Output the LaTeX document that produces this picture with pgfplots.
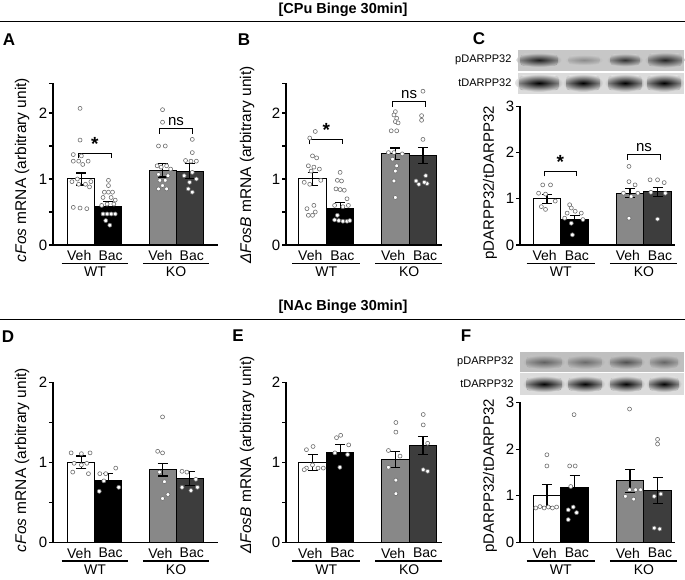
\documentclass[border=0pt]{standalone}
\usepackage{fontspec}
\setmainfont{Liberation Sans}
\usepackage{pgfplots}
\pgfplotsset{compat=1.18}
\definecolor{kov}{HTML}{888888}
\definecolor{kob}{HTML}{3D3D3D}
\definecolor{dotc}{HTML}{6E6E6E}
\newcommand{\fs}[1]{\fontsize{#1}{#1}\selectfont}

\pgfplotsset{
  panel/.style={scale only axis, anchor=south west, clip=false,
    axis x line*=bottom, axis y line*=left,
    axis line style={line width=1.1pt, black},
    xtick=\empty, ymin=0, tick align=outside, major tick length=4pt,
    tick style={line width=1.1pt, black},
    yticklabel style={font=\fs{15}, inner sep=1.5pt},
    /pgf/number format/assume math mode=true},
  bars/.style={ybar, bar width=1, bar shift=0pt, draw=black, line width=1pt},
  dots/.style={only marks, mark=*, mark size=2pt,
    mark options={fill=white, draw=dotc, line width=0.6pt}},
  errs/.style={draw=none, mark=none, forget plot,
    error bars/.cd, y dir=both, y explicit,
    error bar style={line width=1.2pt, draw=black},
    error mark options={rotate=90, line width=1.2pt, draw=black, mark size=5pt}},
}
\tikzset{lab/.style={font=\fs{14}, inner sep=0pt}}

% group labels under each axis
\newcommand{\grp}{%
  \node[lab] at ([yshift=-10.5pt]axis cs:-0.08,0) {Veh};
  \node[lab] at ([yshift=-10.5pt]axis cs:1.08,0) {Bac};
  \node[lab] at ([yshift=-10.5pt]axis cs:2.92,0) {Veh};
  \node[lab] at ([yshift=-10.5pt]axis cs:4.08,0) {Bac};
  \draw[line width=1.2pt] ([yshift=-18.5pt]axis cs:-0.73,0) -- ([yshift=-18.5pt]axis cs:1.73,0);
  \draw[line width=1.2pt] ([yshift=-18.5pt]axis cs:2.27,0) -- ([yshift=-18.5pt]axis cs:4.7,0);
  \node[lab] at ([yshift=-27pt]axis cs:0.5,0) {WT};
  \node[lab] at ([yshift=-27pt]axis cs:3.5,0) {KO};
}
% significance bracket: x1, x2, y, text
\newcommand{\brk}[4]{%
  \draw[line width=1.2pt] ([yshift=-5pt]axis cs:#1,#3) -- (axis cs:#1,#3) -- (axis cs:#2,#3) -- ([yshift=-5pt]axis cs:#2,#3);
  \node[anchor=base, inner sep=0pt, font=\fs{15}] at ([yshift=3pt]axis cs:{(#1+#2)/2},#3) {#4};
}
\newcommand{\sigstar}{{\fs{19}\bfseries *}}
% blot band: x, y, half width, half height, darkness, background
\newcommand{\band}[6]{%
  \shade[top color=#6, bottom color=#6, middle color=black!#5, rounded corners=4pt]
    ({#1-#3},{#2-#4}) rectangle ({#1+#3},{#2+#4});
  \shade[inner color=black!#5, outer color=#6, opacity=0.7]
    (#1,#2) ellipse ({#3*1.2} and {#4*1.2});}

\begin{document}
\begin{tikzpicture}[x=1pt,y=1pt]
\path[use as bounding box] (0,0) rectangle (685,580);

% headers
\node[font=\bfseries\fs{14.5}] at (343,570) {[CPu Binge 30min]};
\draw[line width=1.5pt] (0,558.5) -- (685,558.5);
\node[font=\bfseries\fs{14.5}] at (343,273) {[NAc Binge 30min]};
\draw[line width=1.5pt] (0,260.5) -- (685,260.5);

% panel letters
\node[font=\bfseries\fs{17}] at (9,540) {A};
\node[font=\bfseries\fs{17}] at (244,540) {B};
\node[font=\bfseries\fs{17}] at (479,541) {C};
\node[font=\bfseries\fs{17}] at (8,243) {D};
\node[font=\bfseries\fs{17}] at (238,244) {E};
\node[font=\bfseries\fs{17}] at (466,244) {F};

% y labels
\node[rotate=90, font=\fs{15.5}] at (22,410) {\textit{cFos} mRNA (arbitrary unit)};
\node[rotate=90, font=\fs{15.5}] at (247,415) {\textit{ΔFosB} mRNA (arbitrary unit)};
\node[rotate=90, font=\fs{15}] at (490,397) {pDARPP32/tDARPP32};
\node[rotate=90, font=\fs{15.5}] at (22,120) {\textit{cFos} mRNA (arbitrary unit)};
\node[rotate=90, font=\fs{15.5}] at (247,125) {\textit{ΔFosB} mRNA (arbitrary unit)};
\node[rotate=90, font=\fs{15}] at (490,104) {pDARPP32/tDARPP32};

% western blots C
\fill[black!22] (518,509) rectangle (684,530);
\fill[black!14] (518,486) rectangle (684,507);
\band{539}{520}{19}{6}{88}{black!22}
\band{584}{520}{16}{4.5}{45}{black!22}
\band{625}{520}{15}{5.5}{80}{black!22}
\band{665}{520}{17}{6.5}{85}{black!22}
\band{539}{497}{20}{7.5}{100}{black!14}
\band{583}{497}{17}{7.5}{100}{black!14}
\band{625}{497}{17}{7.5}{100}{black!14}
\band{664}{497}{17}{7.5}{100}{black!14}
\node[anchor=east, font=\fs{11}] at (515,520) {pDARPP32};
\node[anchor=east, font=\fs{11}] at (515,497) {tDARPP32};

% western blots F
\fill[black!25] (520,208) rectangle (684,228);
\fill[black!14] (520,185) rectangle (684,207);
\band{544}{218}{18}{6}{62}{black!25}
\band{585}{218}{17}{6}{58}{black!25}
\band{626}{218}{16}{6}{68}{black!25}
\band{664}{218}{14}{6}{60}{black!25}
\band{544}{196}{18}{7}{98}{black!14}
\band{585}{196}{17}{7}{98}{black!14}
\band{626}{196}{16}{7}{98}{black!14}
\band{664}{196}{15}{7}{98}{black!14}
\node[anchor=east, font=\fs{11}] at (517,218) {pDARPP32};
\node[anchor=east, font=\fs{11}] at (517,196) {tDARPP32};

% ---------- A ----------
\begin{axis}[panel, at={(53pt,335pt)}, width=165pt, height=161.7pt,
  xmin=-1.05, xmax=5.05, ymax=2.45,
  ytick={0,0.5,1,1.5,2,2.45}, yticklabels={0,,1,,2,}]
\addplot[bars, fill=white] coordinates {(0,1.0)};
\addplot[bars, fill=black] coordinates {(1,0.58)};
\addplot[bars, fill=kov] coordinates {(3,1.13)};
\addplot[bars, fill=kob] coordinates {(4,1.12)};
\addplot[dots] coordinates {
 (-0.05,2.07) (-0.05,1.59) (-0.3,1.37) (0.0,1.35) (-0.3,1.27) (-0.1,1.27) (0.25,1.27) (0.05,1.22)
 (-0.15,1.0) (-0.35,0.96) (0.35,0.96) (-0.1,0.92) (0.15,0.92) (0.3,0.88) (-0.3,0.57) (-0.05,0.56) (0.2,0.55)
 (1.0,0.98) (1.0,0.9) (0.85,0.8) (1.0,0.8) (1.15,0.8) (0.8,0.72) (1.1,0.72) (1.25,0.68) (0.95,0.62)
 (0.75,0.6) (1.2,0.62) (0.8,0.47) (0.95,0.47) (1.1,0.47) (1.25,0.47) (0.9,0.37) (1.05,0.3)
 (3.0,2.05) (3.0,1.86) (2.85,1.5) (3.1,1.5) (2.8,1.2) (2.95,1.18) (3.15,1.2) (3.3,1.15) (2.85,1.07)
 (3.2,1.05) (2.9,0.98) (3.1,0.98) (3.0,0.9) (2.85,0.85) (3.15,0.85)
 (4.1,1.6) (4.1,1.4) (3.85,1.28) (4.05,1.27) (4.25,1.27) (4.1,1.1) (3.8,1.05) (4.25,1.0) (4.0,0.95)
 (3.95,0.85) (4.1,0.8)};
\addplot[errs] coordinates {(0,1.0) +- (0,0.09) (1,0.58) +- (0,0.08) (3,1.13) +- (0,0.1) (4,1.12) +- (0,0.11)};
\grp
\brk{-0.1}{1.1}{1.39}{\sigstar}
\brk{2.9}{4.1}{1.76}{ns}
\end{axis}

% ---------- B ----------
\begin{axis}[panel, at={(286pt,335pt)}, width=156pt, height=161.7pt,
  xmin=-0.96, xmax=4.69, ymax=2.45,
  ytick={0,0.5,1,1.5,2,2.45}, yticklabels={0,,1,,2,}]
\addplot[bars, fill=white] coordinates {(0,1.0)};
\addplot[bars, fill=black] coordinates {(1,0.56)};
\addplot[bars, fill=kov] coordinates {(3,1.38)};
\addplot[bars, fill=kob] coordinates {(4,1.36)};
\addplot[dots] coordinates {
 (0.1,1.72) (-0.1,1.62) (0.0,1.35) (0.15,1.32) (-0.15,1.2) (0.05,1.18) (0.25,1.15) (-0.05,1.12)
 (0.3,0.98) (-0.3,0.95) (-0.1,0.92) (0.05,0.6) (-0.2,0.55) (0.1,0.5) (-0.15,0.45) (0.0,0.45)
 (1.0,1.1) (0.9,0.98) (1.05,0.97) (0.85,0.85) (1.0,0.84) (1.15,0.83) (1.25,0.7) (0.8,0.6) (1.1,0.58)
 (1.3,0.6) (0.9,0.45) (0.8,0.38) (0.95,0.37) (1.1,0.36) (1.25,0.36) (1.35,0.37)
 (3.0,2.02) (2.95,1.97) (3.05,1.92) (3.0,1.87) (3.1,1.85) (2.85,1.73) (3.05,1.73) (2.75,1.4) (2.95,1.4)
 (3.25,1.38) (2.9,1.3) (3.05,1.2) (3.0,1.12) (2.95,0.97) (3.0,0.72)
 (4.0,2.33) (3.95,1.96) (3.95,1.89) (4.0,1.6) (4.1,1.05) (3.75,0.97) (4.15,0.93) (3.85,0.92) (4.05,0.95)};
\addplot[errs] coordinates {(0,1.0) +- (0,0.1) (1,0.56) +- (0,0.08) (3,1.38) +- (0,0.09) (4,1.36) +- (0,0.12)};
\grp
\brk{-0.1}{1.1}{1.6}{\sigstar}
\brk{2.9}{4.1}{2.17}{ns}
\end{axis}

% ---------- C ----------
\begin{axis}[panel, at={(520pt,335pt)}, width=155pt, height=138.7pt,
  xmin=-0.97, xmax=4.62, ymax=3,
  ytick={0,1,2,3}, yticklabels={0,1,2,3}]
\addplot[bars, fill=white] coordinates {(0,1.0)};
\addplot[bars, fill=black] coordinates {(1,0.56)};
\addplot[bars, fill=kov] coordinates {(3,1.12)};
\addplot[bars, fill=kob] coordinates {(4,1.15)};
\addplot[dots] coordinates {
 (-0.15,1.3) (0.13,1.3) (-0.3,1.12) (-0.05,1.1) (0.3,0.95) (-0.2,0.83) (-0.05,0.77)
 (0.82,0.87) (0.88,0.8) (0.73,0.69) (1.02,0.73) (1.24,0.69) (0.64,0.58) (1.3,0.55) (0.88,0.47) (0.92,0.22)
 (2.96,1.7) (2.96,1.37) (3.18,1.3) (2.76,1.12) (3.04,1.05) (3.28,1.12) (2.96,0.58)
 (3.72,1.41) (3.99,1.41) (4.23,1.35) (3.75,1.14) (4.27,1.12) (3.99,0.56)};
\addplot[errs] coordinates {(0,1.0) +- (0,0.1) (1,0.56) +- (0,0.08) (3,1.12) +- (0,0.1) (4,1.15) +- (0,0.1)};
\grp
\brk{-0.1}{1.07}{1.59}{\sigstar}
\brk{2.9}{4.1}{1.95}{ns}
\end{axis}

% ---------- D ----------
\begin{axis}[panel, at={(53pt,37.5pt)}, width=165pt, height=160pt,
  xmin=-1.05, xmax=5.05, ymax=2,
  ytick={0,0.5,1,1.5,2}, yticklabels={0,,1,,2}]
\addplot[bars, fill=white] coordinates {(0,1.0)};
\addplot[bars, fill=black] coordinates {(1,0.78)};
\addplot[bars, fill=kov] coordinates {(3,0.91)};
\addplot[bars, fill=kob] coordinates {(4,0.80)};
\addplot[dots] coordinates {
 (-0.38,1.12) (0.0,1.11) (0.32,1.12) (-0.27,0.99) (0.0,0.97) (0.2,0.99) (-0.32,0.88) (0.26,0.86)
 (0.68,0.86) (0.9,0.86) (1.27,0.93) (0.83,0.77) (0.66,0.64) (1.38,0.69)
 (3.0,1.57) (2.82,1.14) (3.0,1.12) (2.89,0.88) (3.07,0.76) (3.2,0.6) (3.0,0.55)
 (3.72,0.89) (3.9,0.88) (4.23,0.79) (3.72,0.69) (4.05,0.65) (4.29,0.69)};
\addplot[errs] coordinates {(0,1.0) +- (0,0.08) (1,0.78) +- (0,0.08) (3,0.91) +- (0,0.08) (4,0.80) +- (0,0.09)};
\grp
\end{axis}

% ---------- E ----------
\begin{axis}[panel, at={(286pt,37.5pt)}, width=156pt, height=160pt,
  xmin=-0.96, xmax=4.69, ymax=2,
  ytick={0,0.5,1,1.5,2}, yticklabels={0,,1,,2}]
\addplot[bars, fill=white] coordinates {(0,1.0)};
\addplot[bars, fill=black] coordinates {(1,1.12)};
\addplot[bars, fill=kov] coordinates {(3,1.04)};
\addplot[bars, fill=kob] coordinates {(4,1.21)};
\addplot[dots] coordinates {
 (0.02,1.2) (-0.22,1.16) (0.0,0.97) (-0.22,0.93) (0.2,0.93) (0.39,0.93) (-0.3,0.91)
 (0.87,1.31) (1.02,1.34) (1.31,1.22) (0.81,1.12) (1.27,1.1) (0.99,0.94)
 (3.02,1.5) (3.02,1.38) (2.75,1.15) (3.17,1.08) (2.75,0.94) (3.02,0.78) (3.02,0.61)
 (4.01,1.6) (4.01,1.47) (4.17,1.24) (4.01,0.91) (4.17,0.89)};
\addplot[errs] coordinates {(0,1.0) +- (0,0.1) (1,1.12) +- (0,0.1) (3,1.04) +- (0,0.1) (4,1.21) +- (0,0.11)};
\grp
\end{axis}

% ---------- F ----------
\begin{axis}[panel, at={(520pt,37.5pt)}, width=155pt, height=140pt,
  xmin=-0.97, xmax=4.62, ymax=3,
  ytick={0,1,2,3}, yticklabels={0,1,2,3}]
\addplot[bars, fill=white] coordinates {(0,1.0)};
\addplot[bars, fill=black] coordinates {(1,1.18)};
\addplot[bars, fill=kov] coordinates {(3,1.32)};
\addplot[bars, fill=kob] coordinates {(4,1.11)};
\addplot[dots] coordinates {
 (0.0,1.88) (0.0,1.64) (-0.4,0.74) (-0.25,0.77) (-0.1,0.74) (0.05,0.76) (0.2,0.74) (0.35,0.76)
 (0.98,2.74) (0.82,1.64) (1.02,1.64) (0.86,1.2) (0.95,0.76) (0.77,0.7) (1.07,0.64) (0.77,0.49)
 (2.98,2.86) (2.98,1.13) (3.2,1.13) (3.38,1.13) (2.83,0.99) (3.13,0.93)
 (3.99,2.21) (3.99,2.11) (3.87,0.99) (4.11,1.04) (3.87,0.31) (4.07,0.29)};
\addplot[errs] coordinates {(0,1.0) +- (0,0.24) (1,1.18) +- (0,0.26) (3,1.32) +- (0,0.25) (4,1.11) +- (0,0.28)};
\grp
\end{axis}
\end{tikzpicture}
\end{document}
